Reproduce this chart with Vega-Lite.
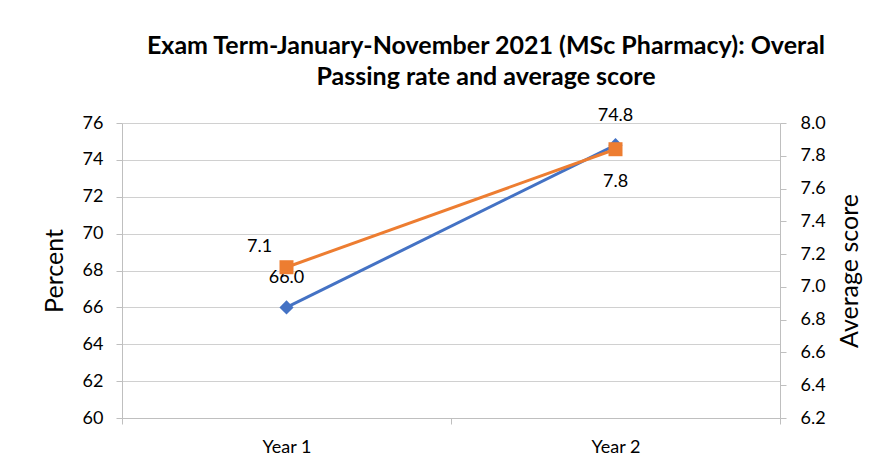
{
  "$schema": "https://vega.github.io/schema/vega-lite/v6.json",
  "autosize": "none",
  "width": 658,
  "height": 295,
  "padding": {"left": 122, "top": 123, "right": 111, "bottom": 52},
  "background": "white",
  "config": {
    "font": "Lato",
    "view": {"stroke": null},
    "axis": {"labelFont": "Lato", "titleFont": "Lato", "labelColor": "#000000", "titleColor": "#000000", "domainColor": "#BFBFBF", "tickColor": "#BFBFBF", "gridColor": "#D0D0D0", "labelFontSize": 18, "titleFontSize": 25, "titleFontWeight": "normal"}
  },
  "title": {
    "text": ["Exam Term-January-November 2021 (MSc Pharmacy):  Overal", "Passing rate and average score"],
    "font": "Lato",
    "fontSize": 25,
    "fontWeight": "bold",
    "color": "#000000",
    "lineHeight": 31,
    "anchor": "middle",
    "dx": 35,
    "offset": 17
  },
  "data": {
    "values": [
      {"year": "Year 1", "percent": 66.0, "score": 7.12},
      {"year": "Year 2", "percent": 74.8, "score": 7.84}
    ]
  },
  "encoding": {
    "x": {
      "field": "year",
      "type": "nominal",
      "title": null,
      "scale": {"type": "band", "paddingInner": 0, "paddingOuter": 0},
      "axis": {"labelAngle": 0, "tickBand": "extent", "tickSize": 6, "labelPadding": 14, "grid": false, "domainColor": "#BFBFBF"}
    }
  },
  "layer": [
    {
      "encoding": {
        "y": {
          "field": "percent",
          "type": "quantitative",
          "title": "Percent",
          "scale": {"domain": [60, 76], "nice": false, "zero": false},
          "axis": {"orient": "left", "values": [60, 62, 64, 66, 68, 70, 72, 74, 76], "grid": true, "tickSize": 6, "labelPadding": 13, "titlePadding": 15}
        }
      },
      "layer": [
        {"mark": {"type": "line", "color": "#4472C4", "strokeWidth": 3}},
        {"mark": {"type": "point", "shape": "diamond", "filled": true, "color": "#4472C4", "size": 200, "opacity": 1}},
        {"mark": {"type": "text", "fontSize": 18, "dy": -29, "baseline": "middle", "font": "Lato", "color": "#000000"}, "encoding": {"text": {"field": "percent", "type": "quantitative", "format": ".1f"}}}
      ]
    },
    {
      "encoding": {
        "y": {
          "field": "score",
          "type": "quantitative",
          "title": "Average score",
          "scale": {"domain": [6.2, 8.0], "nice": false, "zero": false},
          "axis": {"orient": "right", "values": [6.2, 6.4, 6.6, 6.8, 7.0, 7.2, 7.4, 7.6, 7.8, 8.0], "format": ".1f", "grid": false, "tickSize": 6, "labelPadding": 14, "titlePadding": 12, "titleAngle": 270, "titleBaseline": "top"}
        }
      },
      "layer": [
        {"mark": {"type": "line", "color": "#ED7D31", "strokeWidth": 3}},
        {"mark": {"type": "point", "shape": "square", "filled": true, "color": "#ED7D31", "size": 196, "opacity": 1}},
        {"transform": [{"filter": "datum.year === 'Year 1'"}], "mark": {"type": "text", "fontSize": 18, "dx": -27, "dy": -20, "baseline": "middle", "font": "Lato", "color": "#000000"}, "encoding": {"text": {"field": "score", "type": "quantitative", "format": ".1f"}}},
        {"transform": [{"filter": "datum.year === 'Year 2'"}], "mark": {"type": "text", "fontSize": 18, "dy": 33, "baseline": "middle", "font": "Lato", "color": "#000000"}, "encoding": {"text": {"field": "score", "type": "quantitative", "format": ".1f"}}}
      ]
    }
  ],
  "resolve": {"scale": {"y": "independent"}}
}
